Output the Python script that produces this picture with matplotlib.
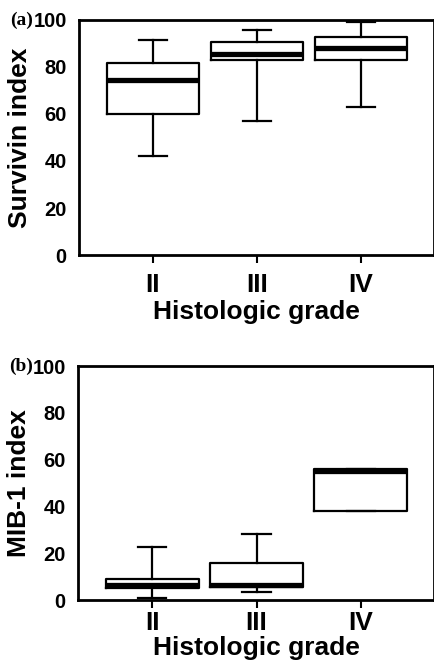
import matplotlib.pyplot as plt

# data
grades = ["II", "III", "IV"]

# (a) survivin index
surv_whislo = [42, 57, 63]
surv_q1 = [60, 83, 83]
surv_med = [74.5, 85.4, 88]
surv_q3 = [81.7, 90.6, 92.8]
surv_whishi = [91.3, 95.6, 99.2]

# (b) MIB-1 index
mib_whislo = [1.1, 3.5, 38.2]
mib_q1 = [5.3, 5.5, 38.2]
mib_med = [6.6, 6.4, 55.2]
mib_q3 = [9.2, 15.7, 56.1]
mib_whishi = [22.7, 28.3, 56.1]

plt.rcParams['font.family'] = ['Liberation Sans', 'DejaVu Sans']
plt.rcParams['font.weight'] = 'bold'


def make_stats(lo, q1, med, q3, hi):
    stats = []
    for i in range(len(grades)):
        stats.append({"whislo": lo[i], "q1": q1[i], "med": med[i],
                      "q3": q3[i], "whishi": hi[i], "label": grades[i]})
    return stats


def draw_panel(ax, stats, ylabel, tag, xpad, xlabpad):
    ax.bxp(stats, positions=[1, 2, 3], widths=0.89, showfliers=False,
           capwidths=0.27,
           boxprops=dict(linewidth=1.6, color='black'),
           whiskerprops=dict(linewidth=1.6, color='black'),
           capprops=dict(linewidth=1.6, color='black'),
           medianprops=dict(linewidth=3.8, color='black', solid_capstyle='butt'))
    ax.set_xlim(0.29, 3.70)
    ax.set_ylim(0, 100)
    ax.set_yticks([0, 20, 40, 60, 80, 100])
    ax.set_xticks([1, 2, 3])
    ax.set_xticklabels(grades, fontsize=19, fontweight='bold')
    ax.tick_params(axis='y', length=0, pad=9, labelsize=14.5)
    ax.tick_params(axis='x', length=6, width=1.5, pad=xpad)
    for s in ax.spines.values():
        s.set_linewidth(2)
    ax.set_ylabel(ylabel, fontsize=19, fontweight='bold', labelpad=1)
    ax.set_xlabel("Histologic grade", fontsize=19, fontweight='bold', labelpad=xlabpad)
    ax.text(-0.194, 1.0, tag, transform=ax.transAxes, fontsize=14,
            family='Liberation Serif', fontweight='bold', va='center', ha='left')


fig = plt.figure(figsize=(4.35, 6.65), dpi=100)
ax1 = fig.add_axes([0.182, 0.6165, 0.815, 0.3535])
ax2 = fig.add_axes([0.180, 0.0975, 0.817, 0.3521])

draw_panel(ax1, make_stats(surv_whislo, surv_q1, surv_med, surv_q3, surv_whishi),
           "Survivin index", "(a)", 7, 2)
draw_panel(ax2, make_stats(mib_whislo, mib_q1, mib_med, mib_q3, mib_whishi),
           "MIB-1 index", "(b)", 2, 0.5)

fig.savefig("out.png", dpi=100)
